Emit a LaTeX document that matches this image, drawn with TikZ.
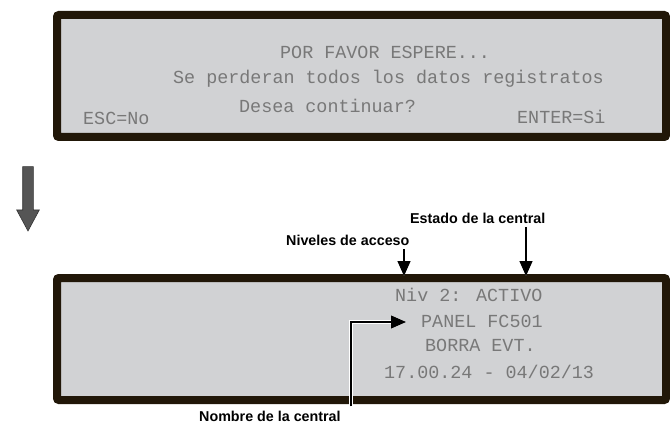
\documentclass[tikz,border=0pt]{standalone}
\usepackage{fontspec}
\setmainfont{Liberation Sans}
\newfontfamily\lcdfont{Liberation Mono}
\usepackage{tikz,xcolor}
\usetikzlibrary{arrows.meta, calc}

\definecolor{lcdframe}{RGB}{33,23,8}
\definecolor{lcdface}{RGB}{209,210,212}
\definecolor{lcdtext}{RGB}{120,120,120}
\definecolor{arrowgray}{RGB}{85,85,85}

\tikzset{
  lcdbox/.style={draw=lcdframe, fill=lcdface, line width=8pt, rounded corners=2pt,
    minimum width=609pt, minimum height=122pt, inner sep=0pt},
  lcdline/.style={anchor=base west, inner sep=0pt, text=lcdtext,
    font=\lcdfont\fontsize{18.4}{20}\selectfont},
  tag/.style={anchor=base west, inner sep=4pt, font=\bfseries\fontsize{14.3}{16}\selectfont},
  callout/.style={line width=1.3pt, -{Triangle[length=15pt,width=13pt]},
    preaction={draw=white, line width=3.5pt}}
}

\begin{document}
\begin{tikzpicture}[x=1pt, y=-1pt]
\useasboundingbox (0,0) rectangle (670,425);

%first screen
\node[lcdbox] (aviso) at (361.5,76) {};
\node[lcdline] (espere) at (280,59) {POR FAVOR ESPERE...};
\node[lcdline] (perder) at (173,84) {Se perderan todos los datos registratos};
\node[lcdline] (desea) at (239,113) {Desea continuar?};
\node[lcdline] (esc) at (83,125) {ESC=No};
\node[lcdline] (enter) at (517,124) {ENTER=Si};

%down arrow
\filldraw[fill=arrowgray, draw=black!80, line width=0.6pt]
  (22.7,166.7) -- (33.3,166.7) -- (33.3,210) -- (39.3,210) -- (28,231)
  -- (16.7,210) -- (22.7,210) -- cycle;

%second screen
\node[lcdbox] (panel) at (361.5,339) {};
\node[lcdline] (nivel) at (395,301) {Niv 2: ACTIVO};
\node[lcdline] (nombre) at (421,327) {PANEL FC501};
\node[lcdline] (borra) at (425,351) {BORRA EVT.};
\node[lcdline] (fecha) at (384,378) {17.00.24 - 04/02/13};

%labels
\node[tag] (niveles) at (282,245) {Niveles de acceso};
\node[tag] (estado) at (406,223) {Estado de la central};
\node[tag] (central) at (195,421) {Nombre de la central};

\coordinate (nivtip) at (404,276);
\coordinate (esttip) at (526,276);
\coordinate (codo) at (351,322);
\coordinate (nomtip) at (406,322);

\draw[callout] (niveles.south -| nivtip) -- (nivtip);
\draw[callout] (estado.south -| esttip) -- (esttip);
\draw[callout] (central.north -| codo) -- (codo) -- (nomtip);

\end{tikzpicture}
\end{document}
